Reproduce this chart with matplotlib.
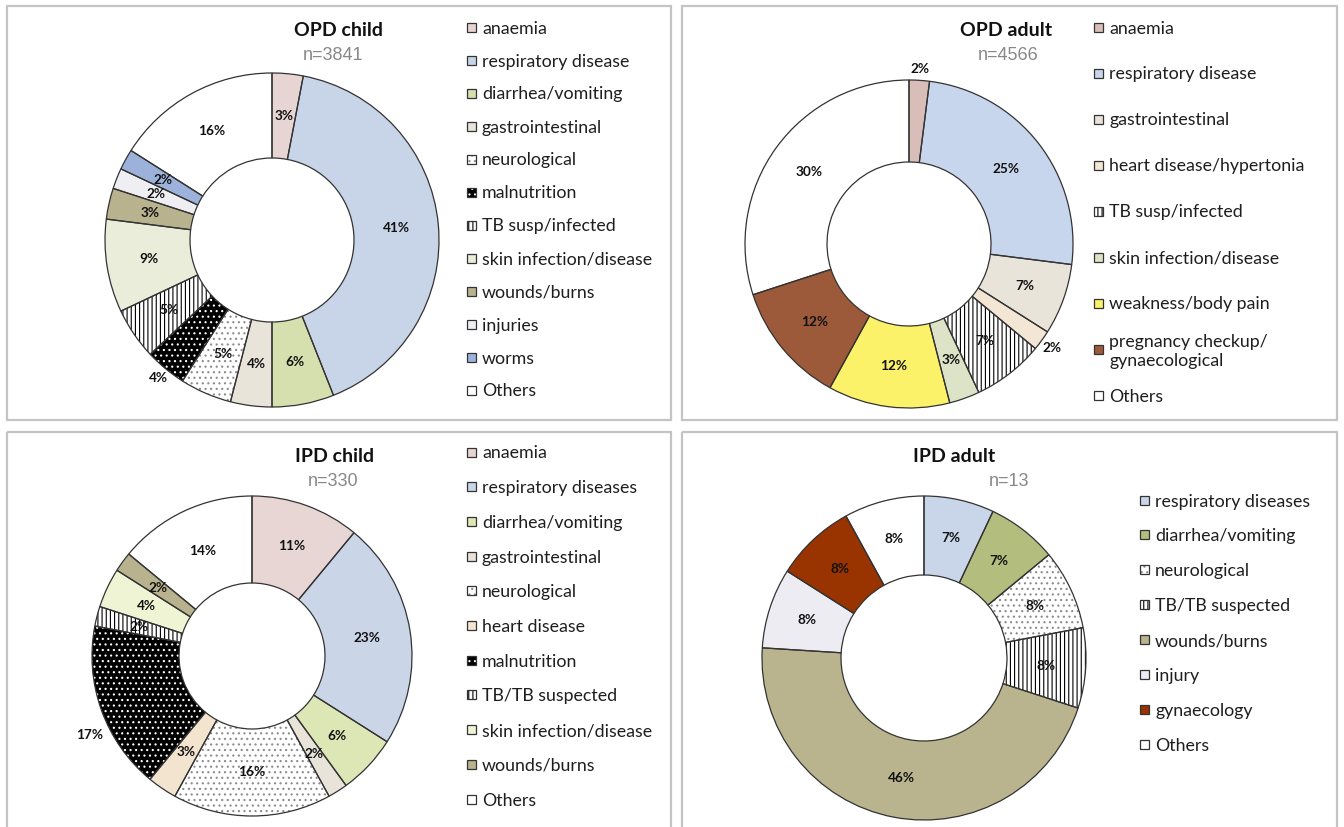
import matplotlib
matplotlib.use("Agg")
import matplotlib.pyplot as plt
from matplotlib.patches import Rectangle
import numpy as np

W, H = 1344, 827

# ---------------- data ----------------
opd_child_labels = ["anaemia", "respiratory disease", "diarrhea/vomiting", "gastrointestinal",
                    "neurological", "malnutrition", "TB susp/infected", "skin infection/disease",
                    "wounds/burns", "injuries", "worms", "Others"]
opd_child_values = [3, 41, 6, 4, 5, 4, 5, 9, 3, 2, 2, 16]

opd_adult_labels = ["anaemia", "respiratory disease", "gastrointestinal", "heart disease/hypertonia",
                    "TB susp/infected", "skin infection/disease", "weakness/body pain",
                    "pregnancy checkup/\ngynaecological", "Others"]
opd_adult_values = [2, 25, 7, 2, 7, 3, 12, 12, 30]

ipd_child_labels = ["anaemia", "respiratory diseases", "diarrhea/vomiting", "gastrointestinal",
                    "neurological", "heart disease", "malnutrition", "TB/TB suspected",
                    "skin infection/disease", "wounds/burns", "Others"]
ipd_child_values = [11, 23, 6, 2, 16, 3, 17, 2, 4, 2, 14]

ipd_adult_labels = ["respiratory diseases", "diarrhea/vomiting", "neurological", "TB/TB suspected",
                    "wounds/burns", "injury", "gynaecology", "Others"]
ipd_adult_values = [7, 7, 8, 8, 46, 8, 8, 8]

titles = ["OPD child", "OPD adult", "IPD child", "IPD adult"]
n_texts = ["n=3841", "n=4566", "n=330", "n=13"]

# ---------------- styles ----------------
NEURO = ("white", "...", "#8a8a8a")
MALN = ("black", "...", "white")
TB = ("white", "||||", "black")


def plain(c):
    return (c, "", c)


opd_child_styles = [plain("#E7D5D3"), plain("#C8D4E7"), plain("#D6E0AE"), plain("#E8E4DA"),
                    NEURO, MALN, TB, plain("#E9EDD9"), plain("#B8B28F"), plain("#EEEEF3"),
                    plain("#9CB2DA"), plain("white")]
opd_adult_styles = [plain("#D8BDB9"), plain("#C7D6EC"), plain("#E8E4DA"), plain("#F4E6D4"), TB,
                    plain("#DDE3C6"), plain("#FBF26A"), plain("#9D5A3A"), plain("white")]
ipd_child_styles = [plain("#E8D6D4"), plain("#CAD5E8"), plain("#DDE6B5"), plain("#E8E4DA"), NEURO,
                    plain("#F3E4D0"), MALN, TB, plain("#EFF5D4"), plain("#B8B28F"), plain("white")]
ipd_adult_styles = [plain("#C9D5E8"), plain("#B3BE7E"), NEURO, TB, plain("#BAB48E"),
                    plain("#EDECF2"), plain("#993300"), plain("white")]

# layout (pixels, origin top-left)
panels = [
    dict(labels=opd_child_labels, values=opd_child_values, styles=opd_child_styles,
         center=(272, 240), R=167, inner=82, lab_r={5: (1.07, 0)},
         box=(7, 6, 671, 420), title=(338, 31), ntext=(333, 56),
         leg=(467, 27, 33.0)),
    dict(labels=opd_adult_labels, values=opd_adult_values, styles=opd_adult_styles,
         center=(909, 244), R=164, inner=82, lab_r={0: (1.07, 0), 3: (1.08, 0)},
         box=(682, 6, 1337, 420), title=(1006, 31), ntext=(1008, 56),
         leg=(1094, 27, 46.0)),
    dict(labels=ipd_child_labels, values=ipd_child_values, styles=ipd_child_styles,
         center=(252, 656), R=160, inner=73, lab_r={6: (1.13, 6)},
         box=(7, 432, 671, 830), title=(335, 456), ntext=(333, 481),
         leg=(467, 452, 34.7)),
    dict(labels=ipd_adult_labels, values=ipd_adult_values, styles=ipd_adult_styles,
         center=(924, 658), R=162, inner=83, lab_r={},
         box=(682, 432, 1337, 830), title=(954, 456), ntext=(1009, 481),
         leg=(1140, 500, 34.9)),
]

FONT = "Lato"
fig = plt.figure(figsize=(W / 100, H / 100), dpi=100)
fig.patch.set_facecolor("white")
plt.rcParams["hatch.linewidth"] = 0.8

# overlay axes in pixel coords
ov = fig.add_axes([0, 0, 1, 1])
ov.set_xlim(0, W)
ov.set_ylim(H, 0)
ov.axis("off")

for pi, p in enumerate(panels):
    x0, y0, x1, y1 = p["box"]
    ov.add_patch(Rectangle((x0, y0), x1 - x0, y1 - y0, fill=False, edgecolor="#c4c4c4",
                           linewidth=1.6, zorder=1))
    ov.text(p["title"][0], p["title"][1], titles[pi], ha="center", va="center",
            fontsize=14, fontweight="bold", family=FONT, color="#111111")
    ov.text(p["ntext"][0], p["ntext"][1], n_texts[pi], ha="center", va="center",
            fontsize=13, family="Liberation Sans", color="#888888")

    # legend
    lx, ly, step = p["leg"]
    for i, (lab, st) in enumerate(zip(p["labels"], p["styles"])):
        y = ly + i * step
        fc, h, hc = st
        ov.add_patch(Rectangle((lx, y - 4.5), 9, 9, facecolor=fc, edgecolor=hc if h else fc,
                               hatch=h if h else None, linewidth=0, zorder=3))
        ov.add_patch(Rectangle((lx, y - 4.5), 9, 9, facecolor="none", edgecolor="#333333",
                               linewidth=0.9, zorder=4))
        ov.text(lx + 15, y, lab, ha="left", va="center_baseline", fontsize=12.8, family=FONT,
                color="#1e1e1e", linespacing=1.2)

    # donut
    cx, cy = p["center"]
    R = p["R"]
    k = 1.3
    S = 2 * k * R
    ax = fig.add_axes([(cx - k * R) / W, (H - cy - k * R) / H, S / W, S / H])
    wfrac = 1 - p["inner"] / R
    fcs = [s[0] for s in p["styles"]]
    wedges, _ = ax.pie(p["values"], colors=fcs, startangle=90, counterclock=False,
                       radius=1, wedgeprops=dict(width=wfrac, linewidth=0))
    for wdg, s in zip(wedges, p["styles"]):
        if s[1]:
            wdg.set_edgecolor(s[2])
            wdg.set_hatch(s[1])
    edges, _ = ax.pie(p["values"], colors=["none"] * len(p["values"]), startangle=90,
                      counterclock=False, radius=1,
                      wedgeprops=dict(width=wfrac, linewidth=0.9, edgecolor="#333333"))
    rmid = 1 - wfrac / 2
    for i, (wdg, v) in enumerate(zip(wedges, p["values"])):
        r, dth = p["lab_r"].get(i, (rmid, 0))
        ang = np.deg2rad((wdg.theta1 + wdg.theta2) / 2 + dth)
        ax.text(r * np.cos(ang), r * np.sin(ang), f"{v}%", ha="center", va="center",
                fontsize=9.8, fontweight="bold", family=FONT, color="#111111")
    ax.set_xlim(-k, k)
    ax.set_ylim(-k, k)
    ax.set_aspect("equal")
    ax.axis("off")

fig.savefig("out.png", dpi=100, facecolor="white")
